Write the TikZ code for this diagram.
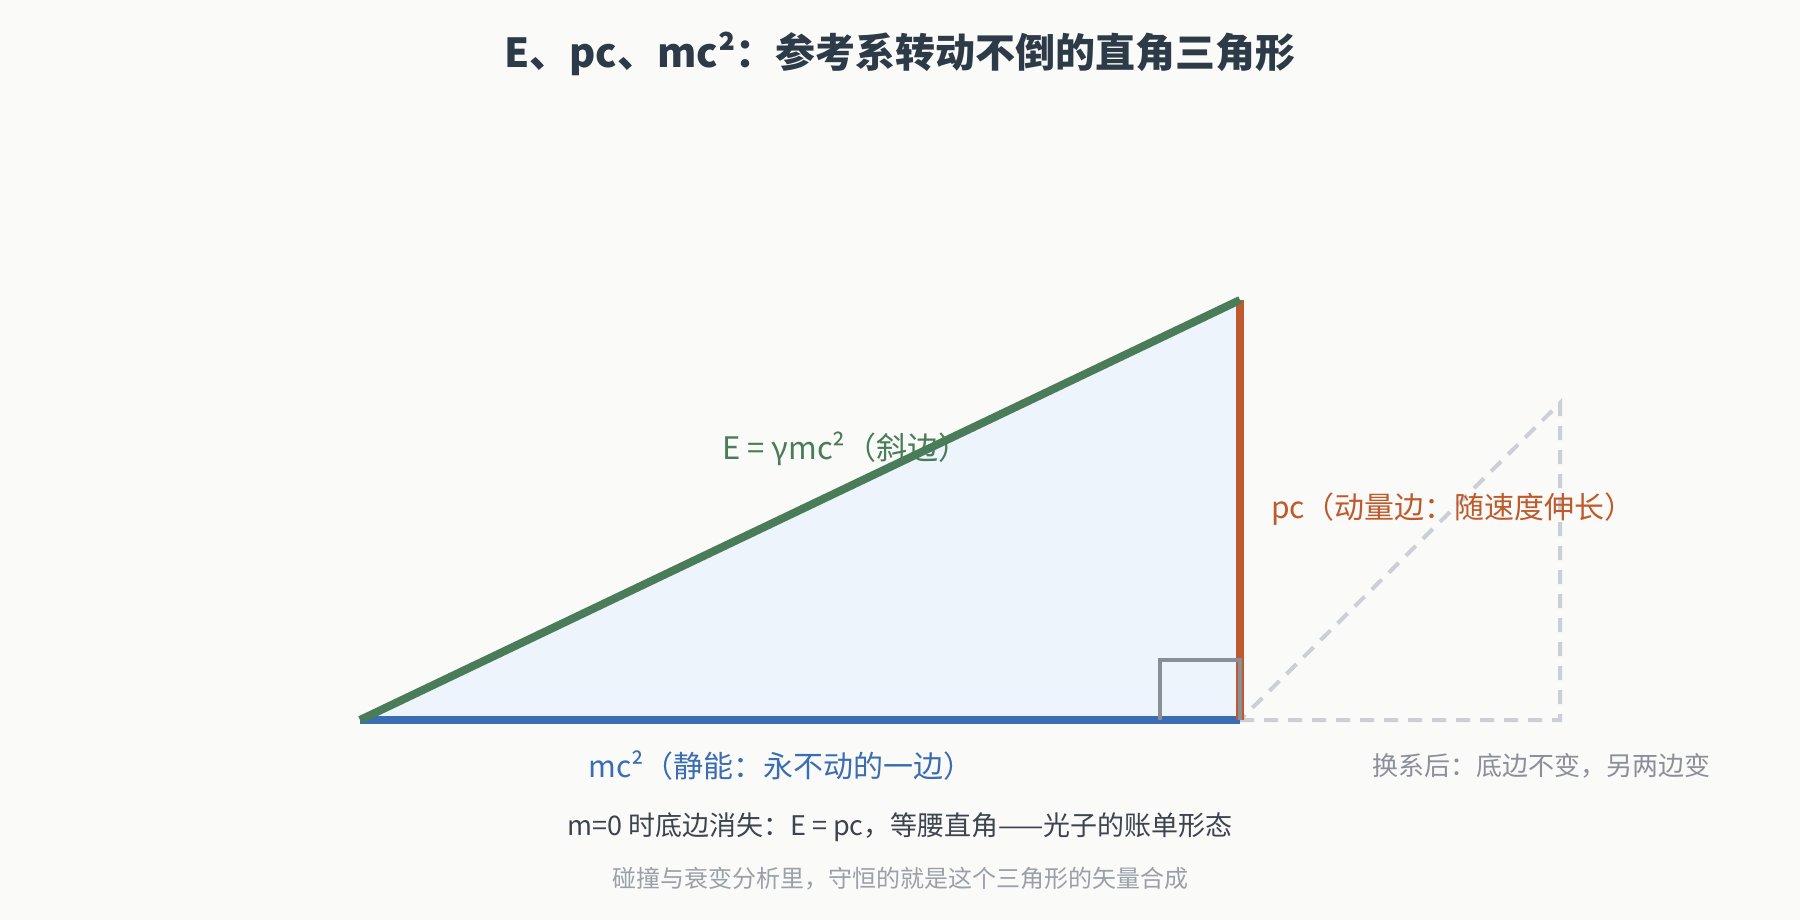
\documentclass[tikz,border=0pt]{standalone}
\usepackage{fontspec}
\setmainfont{Noto Sans CJK SC}
\usetikzlibrary{positioning}
\definecolor{paper}{HTML}{FAFAF8}
\definecolor{ink}{HTML}{2D3A47}
\definecolor{hypgreen}{HTML}{4A7C59}
\definecolor{momorange}{HTML}{BF5A2C}
\definecolor{restblue}{HTML}{3B6DB3}
\definecolor{tint}{HTML}{EDF4FC}
\definecolor{squaregray}{HTML}{8A8E96}
\definecolor{ghostgray}{HTML}{CBCFD6}
\definecolor{notegray}{HTML}{8A8F99}
\definecolor{textdark}{HTML}{3D4450}
\definecolor{textlight}{HTML}{9AA0A8}
\begin{document}
\begin{tikzpicture}[x=1pt,y=-1pt,
    side/.style={line width=8pt},
    ghost/.style={draw=ghostgray,line width=4pt,dash pattern=on 14pt off 10pt},
    lbl/.style={inner sep=0pt,font=\fontsize{#1}{#1}\selectfont},
    lbl/.default=28]
  \fill[paper] (0,0) rectangle (1800,920);
  \useasboundingbox (0,0) rectangle (1800,920);

  \node[lbl=40,text=ink,font=\fontsize{40}{40}\selectfont\bfseries] (title) at (900,54) {E、pc、mc²：参考系转动不倒的直角三角形};

  \coordinate (left) at (360,720);
  \coordinate (corner) at (1240,720);
  \coordinate (top) at (1240,300);
  \coordinate (turned) at (1560,403);
  \coordinate (turnedbase) at (1560,720);

  \fill[tint] (left) -- (corner) -- (top) -- cycle;
  \draw[ghost] (corner) -- (turnedbase) -- (turned) -- cycle;
  \draw[side,restblue] (left) -- (corner);
  \draw[side,momorange] (corner) -- (top);
  \draw[side,hypgreen] (left) -- (top);
  \draw[squaregray,line width=4pt] (1160,720) -- (1160,660) -- (1240,660) -- (1240,720);

  \node[lbl=31,text=hypgreen] (hyplabel) at (846,449) {E = γmc²（斜边）};
  \node[lbl=30,text=momorange] (momlabel) at (1453,509) {pc（动量边：随速度伸长）};
  \node[lbl=30,text=restblue] (restlabel) at (781,766) {mc²（静能：永不动的一边）};
  \node[lbl=26,text=notegray] (turnlabel) at (1541,766) {换系后：底边不变，另两边变};
  \node[lbl=27,text=textdark] (photon) at (900,827) {m=0 时底边消失：E = pc，等腰直角——光子的账单形态};
  \node[lbl=24,text=textlight] (closing) at (900,879) {碰撞与衰变分析里，守恒的就是这个三角形的矢量合成};
\end{tikzpicture}
\end{document}
